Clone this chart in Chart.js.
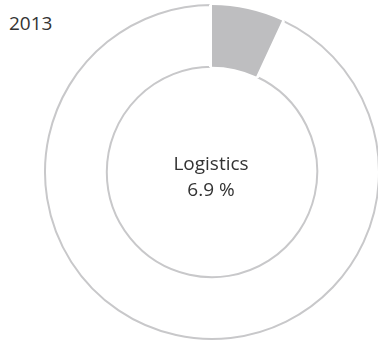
<!DOCTYPE html>
<html>
<head>
<meta charset="utf-8">
<title>2013</title>
<script src="https://cdn.jsdelivr.net/npm/chart.js@4/dist/chart.umd.min.js"></script>
<style>
  html, body { margin: 0; padding: 0; background: #fff; overflow: hidden; }
  body { width: 378px; height: 340px; position: relative; font-family: "Open Sans", "Noto Sans", sans-serif; color: #333; }
  #year { position: absolute; left: 9px; top: 11px; font-size: 19px; line-height: 24px; }
  .ring { position: absolute; left: 42px; top: 2px; }
  #center { position: absolute; left: 111px; width: 200px; top: 150px; text-align: center; font-size: 19px; line-height: 26px; }
</style>
</head>
<body>
<div id="year"></div>
<canvas id="ringBase" class="ring" width="340" height="340"></canvas>
<canvas id="ringFill" class="ring" width="340" height="340"></canvas>
<div id="center"><div id="centerLabel"></div><div id="centerValue"></div></div>
<script>
const year = '2013';
const categories = ['Other segments', 'Logistics'];
const shares = [93.1, 6.9];

const outlineGrey = '#c8c8ca';
const fillGrey = '#bebec0';
const clear = 'rgba(0,0,0,0)';

document.getElementById('year').textContent = year;
document.getElementById('centerLabel').textContent = categories[1];
document.getElementById('centerValue').textContent = shares[1].toFixed(1) + ' %';

// start the ring so the highlighted share begins at 12 o'clock
const total = shares.reduce((a, b) => a + b, 0);
const rotation = shares[1] / total * 360;

function ringConfig(background, borders) {
  return {
    type: 'doughnut',
    data: {
      labels: categories,
      datasets: [{
        data: shares,
        backgroundColor: background,
        borderColor: borders,
        borderWidth: [2, 6]
      }]
    },
    options: {
      responsive: false,
      animation: false,
      cutout: '63%',
      rotation: rotation,
      layout: { padding: 0 },
      events: [],
      plugins: {
        legend: { display: false },
        tooltip: { enabled: false }
      }
    }
  };
}

// bottom layer: outlined white ring, the wide white border cuts the gap around the share
new Chart(document.getElementById('ringBase'), ringConfig(['#fff', '#fff'], [outlineGrey, '#fff']));
// top layer: the grey share itself (same geometry, invisible borders)
new Chart(document.getElementById('ringFill'), ringConfig([clear, fillGrey], [clear, clear]));
</script>
</body>
</html>
